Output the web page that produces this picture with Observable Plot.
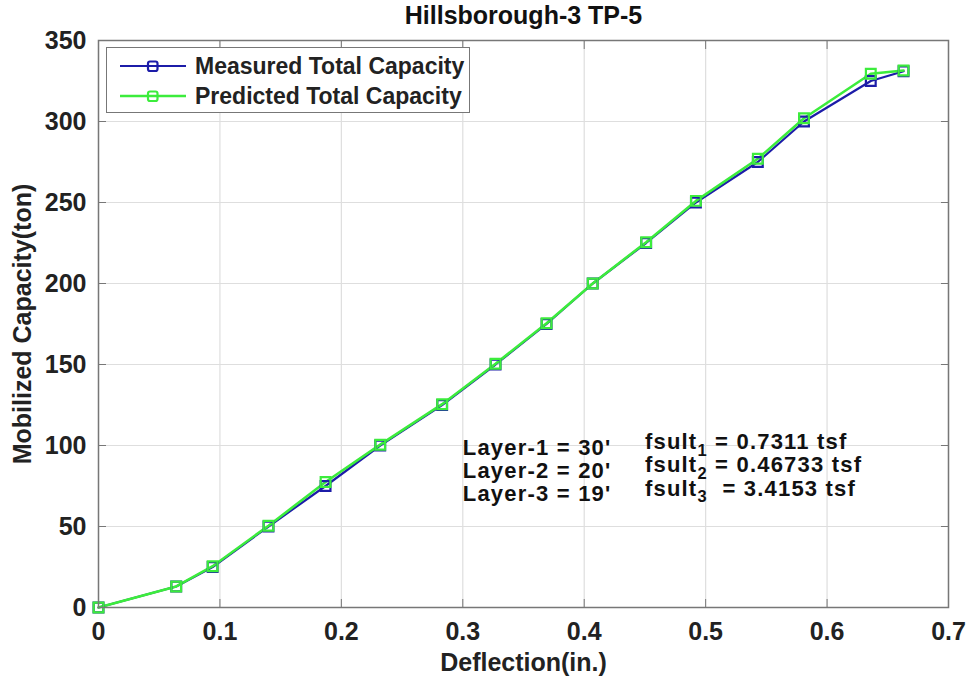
<!DOCTYPE html>
<html><head><meta charset="utf-8">
<script src="https://cdn.jsdelivr.net/npm/d3@7"></script>
<script src="https://cdn.jsdelivr.net/npm/@observablehq/plot@0.6"></script>
<style>
body{margin:0;background:#fff;font-family:"Liberation Sans",Arial,Helvetica,sans-serif;}
#wrap{position:relative;width:968px;height:681px;}
#legend{position:absolute;left:106px;top:47px;width:364px;height:66px;border:1.5px solid #777;background:#fff;box-sizing:border-box;}
.lrow{position:absolute;left:0;height:28px;display:flex;align-items:center;font-weight:bold;font-size:23px;color:#222;white-space:nowrap;}
.lrow svg{margin-left:12px;margin-right:8px;}
</style></head><body><div id="wrap"></div>
<script>
const deflection = [0, 0.064, 0.094, 0.140, 0.187, 0.232, 0.283, 0.327, 0.369, 0.407, 0.451, 0.492, 0.543, 0.581, 0.636, 0.663];
const measured   = [0, 13, 25, 50, 75, 100, 125, 150, 175, 200, 225, 250, 275, 300, 325, 331];
const predicted  = [0, 13, 25.5, 50.5, 77.5, 100.5, 125.5, 150.5, 175.5, 200, 225.5, 251, 277, 302, 329.5, 331.5];
const seriesNames = ["Measured Total Capacity", "Predicted Total Capacity"];
const seriesColors = ["#1c1ca8", "#3cec3c"];
const xTicks = [0, 0.1, 0.2, 0.3, 0.4, 0.5, 0.6, 0.7];
const yTicks = [0, 50, 100, 150, 200, 250, 300, 350];
const titleText = "Hillsborough-3 TP-5";
const xLabel = "Deflection(in.)";
const yLabel = "Mobilized Capacity(ton)";
const layerLines = ["Layer-1 = 30'", "Layer-2 = 20'", "Layer-3 = 19'"];
const fsultSubs = ["1", "2", "3"];
const fsultValues = [" = 0.7311 tsf", " = 0.46733 tsf", "  = 3.4153 tsf"];
const layerAnchor = {x: 0.3, y: 84.5};
const fsultAnchor = {x: 0.45, y: 88};

const rows = [];
seriesNames.forEach((s, k) => {
  const vals = k === 0 ? measured : predicted;
  deflection.forEach((d, i) => rows.push({series: s, x: d, y: vals[i]}));
});

const tickFont = 25, labelFont = 25, annFont = 22;
const plot = Plot.plot({
  width: 968, height: 681,
  marginLeft: 98, marginRight: 20, marginTop: 40, marginBottom: 74,
  style: {fontFamily: '"Liberation Sans", Arial, sans-serif', background: "#fff"},
  x: {domain: [0, 0.7]},
  y: {domain: [0, 350]},
  color: {domain: seriesNames, range: seriesColors},
  marks: [
    Plot.gridX(xTicks, {stroke: "#dedede", strokeOpacity: 1, strokeWidth: 1.2}),
    Plot.gridY(yTicks, {stroke: "#dedede", strokeOpacity: 1, strokeWidth: 1.2}),
    Plot.line(rows, {x: "x", y: "y", z: "series", stroke: "series", strokeWidth: d => d.series === seriesNames[0] ? 2.2 : 2.6}),
    Plot.dot(rows, {x: "x", y: "y", stroke: "series", symbol: "square", r: 5.5, strokeWidth: 2.2, fill: "none"}),
    Plot.frame({stroke: "#777", strokeWidth: 1.5}),
    Plot.axisX(xTicks, {anchor: "bottom", tickSize: -8, tickPadding: 23, fontSize: tickFont, fontWeight: "bold", stroke: "#777", color: "#222", label: null, tickFormat: d => d === 0 ? "0" : d3.format(".1f")(d)}),
    Plot.axisX(xTicks, {anchor: "top", tickSize: -8, stroke: "#777", label: null, tickFormat: () => ""}),
    Plot.axisY(yTicks, {anchor: "left", tickSize: -8, tickPadding: 20, fontSize: tickFont, fontWeight: "bold", stroke: "#777", color: "#222", label: null}),
    Plot.axisY(yTicks, {anchor: "right", tickSize: -8, stroke: "#777", label: null, tickFormat: () => ""}),
    Plot.text([titleText], {frameAnchor: "top", dy: -25, lineAnchor: "middle", textAnchor: "middle", fontSize: labelFont, fontWeight: "bold", fill: "#111"}),
    Plot.text([xLabel], {frameAnchor: "bottom", dy: 55, lineAnchor: "middle", textAnchor: "middle", fontSize: labelFont, fontWeight: "bold", fill: "#222"}),
    Plot.text([yLabel], {frameAnchor: "left", dx: -76, rotate: -90, lineAnchor: "middle", textAnchor: "middle", fontSize: labelFont, fontWeight: "bold", fill: "#222"}),
    Plot.text([layerLines.join("\n")], {x: () => layerAnchor.x, y: () => layerAnchor.y, textAnchor: "start", lineAnchor: "middle", lineHeight: 1.06, fontSize: annFont, fontWeight: "bold", fill: "#111", className: "layers"}),
    Plot.text([fsultSubs.map(s => "fsult" + s).join("\n")], {x: () => fsultAnchor.x, y: () => fsultAnchor.y, textAnchor: "start", lineAnchor: "middle", lineHeight: 1.06, fontSize: annFont, fontWeight: "bold", fill: "#111", className: "fsult"})
  ]
});

d3.select(plot).selectAll("g.layers text, g.fsult text").attr("letter-spacing", "1.2px");
// subscripts for fsult lines
d3.select(plot).selectAll("g.fsult text").each(function() {
  d3.select(this).selectAll(":scope > tspan").each(function(_, i) {
    const t = d3.select(this);
    t.text("");
    t.append("tspan").text("fsult");
    t.append("tspan").attr("dy", "0.4em").attr("font-size", "0.75em").text(fsultSubs[i]);
    t.append("tspan").attr("dy", "-0.3em").text(fsultValues[i]);
  });
});

const wrap = document.getElementById("wrap");
wrap.appendChild(plot);

const legend = document.createElement("div");
legend.id = "legend";
seriesNames.forEach((name, k) => {
  const row = document.createElement("div");
  row.className = "lrow";
  row.style.top = (k === 0 ? 4 : 34) + "px";
  const ns = "http://www.w3.org/2000/svg";
  const svg = document.createElementNS(ns, "svg");
  svg.setAttribute("width", 68); svg.setAttribute("height", 20);
  const line = document.createElementNS(ns, "line");
  line.setAttribute("x1", 1); line.setAttribute("x2", 67); line.setAttribute("y1", 10); line.setAttribute("y2", 10);
  line.setAttribute("stroke", seriesColors[k]); line.setAttribute("stroke-width", k === 0 ? 2.2 : 2.6);
  const rect = document.createElementNS(ns, "rect");
  rect.setAttribute("x", 29); rect.setAttribute("y", 5.5); rect.setAttribute("width", 9.5); rect.setAttribute("height", 9.5);
  rect.setAttribute("rx", 2);
  rect.setAttribute("fill", "none"); rect.setAttribute("stroke", seriesColors[k]); rect.setAttribute("stroke-width", 2.2);
  svg.appendChild(line); svg.appendChild(rect);
  const span = document.createElement("span");
  span.textContent = name;
  row.appendChild(svg); row.appendChild(span);
  legend.appendChild(row);
});
wrap.appendChild(legend);
</script>
</body></html>
